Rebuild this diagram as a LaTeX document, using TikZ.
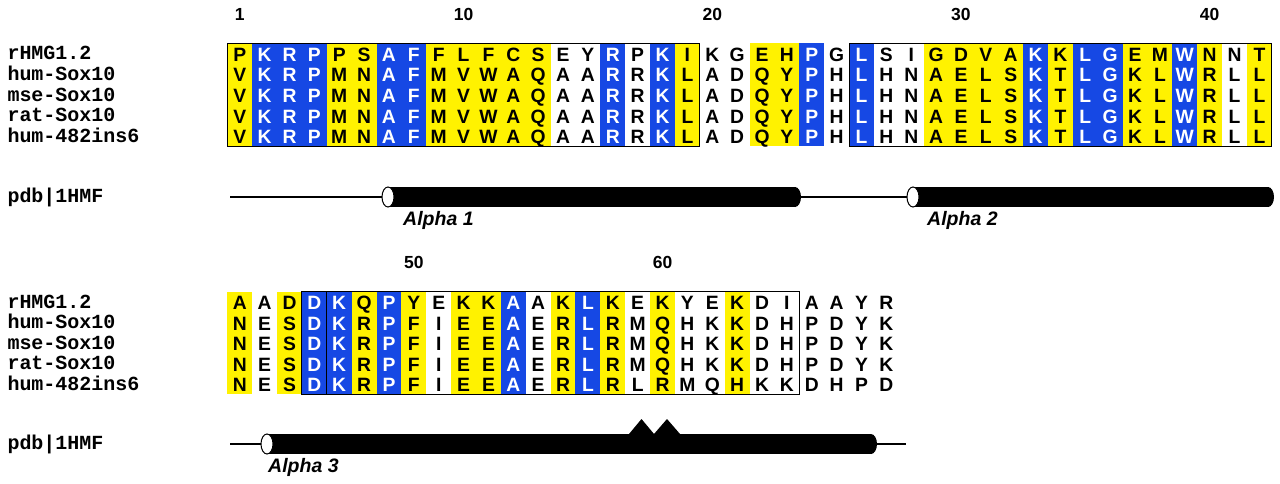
\documentclass[tikz,border=0pt]{standalone}
\usepackage{fontspec}
\setmainfont{Liberation Sans}
\newfontfamily\seqnamefont{Liberation Mono}
\definecolor{hmgyellow}{RGB}{255,242,0}
\definecolor{hmgblue}{RGB}{22,72,228}

\tikzset{
  res/.style={inner sep=0pt, text height=13.8pt, text depth=0pt,
    font=\bfseries\fontsize{19.3}{19.3}\selectfont},
  resY/.style={text=black}, resW/.style={text=black}, resB/.style={text=white},
  bgY/.style={fill=hmgyellow}, bgB/.style={fill=hmgblue}, bgW/.style={fill=white},
  seqname/.style={anchor=west, inner sep=0pt, text height=11pt, text depth=0pt,
    font=\seqnamefont\bfseries\fontsize{20}{20}\selectfont},
  posnum/.style={inner sep=0pt, font=\bfseries\fontsize{17.5}{17.5}\selectfont},
  blockbox/.style={draw=black, line width=1.1pt},
  backbone/.style={line width=1.8pt},
  helixname/.style={anchor=west, inner sep=0pt,
    font=\bfseries\itshape\fontsize{19.5}{19.5}\selectfont},
}

\begin{document}
\begin{tikzpicture}[x=1pt, y=-1pt]
        \useasboundingbox (0,0) rectangle (1280,484);
        \def\cw{24.87}
        \def\xo{227.3}

        % residues 1-42
        \foreach \k/\ra/\rb [count=\i] in {Y/P/V, B/K/K, B/R/R, B/P/P, Y/P/M, Y/S/N, B/A/A, B/F/F,
            Y/F/M, Y/L/V, Y/F/W, Y/C/A, Y/S/Q, W/E/A, W/Y/A, B/R/R, W/P/R, B/K/K, Y/I/L,
            W/K/A, W/G/D, Y/E/Q, Y/H/Y, B/P/P, W/G/H, B/L/L, W/S/H, W/I/N, Y/G/A, Y/D/E,
            Y/V/L, Y/A/S, B/K/K, Y/K/T, B/L/L, B/G/G, Y/E/K, Y/M/L, B/W/W, Y/N/R, W/N/L, Y/T/L} {
            \fill[bg\k] ({\xo+(\i-1)*\cw},43.3) rectangle ++(\cw,103.2);
            \node[res, res\k] (top-1-\i) at ({\xo+(\i-0.5)*\cw},{43.3+0.5*20.64+0.8}) {\ra};
            \foreach \r in {2,...,5}
                \node[res, res\k] (top-\r-\i) at ({\xo+(\i-0.5)*\cw},{43.3+(\r-0.5)*20.64+0.8}) {\rb};
        }
        \draw[blockbox] (\xo,43.3) rectangle ++({19*\cw},103.2);
        \draw[blockbox] ({\xo+25*\cw},43.3) rectangle ++({17*\cw},103.2);

        % residues 43-69
        \foreach \k/\ra/\rb/\re [count=\i] in {Y/A/N/N, W/A/E/E, Y/D/S/S, B/D/D/D, B/K/K/K,
            Y/Q/R/R, B/P/P/P, Y/Y/F/F, W/E/I/I, Y/K/E/E, Y/K/E/E, B/A/A/A, W/A/E/E, Y/K/R/R,
            B/L/L/L, Y/K/R/R, W/E/M/L, Y/K/Q/R, W/Y/H/M, W/E/K/Q, Y/K/K/H, W/D/D/K, W/I/H/K,
            W/A/P/D, W/A/D/H, W/Y/Y/P, W/R/K/D} {
            \fill[bg\k] ({\xo+(\i-1)*\cw},291.7) rectangle ++(\cw,102.6);
            \foreach \s/\r in {\ra/1,\rb/2,\rb/3,\rb/4,\re/5}
                \node[res, res\k] (bot-\r-\i) at ({\xo+(\i-0.5)*\cw},{291.7+(\r-0.5)*20.52+0.8}) {\s};
        }
        \draw[blockbox] ({\xo+3*\cw},291.7) rectangle ++(\cw,102.6);
        \draw[blockbox] ({\xo+4*\cw},291.7) rectangle ++({19*\cw},102.6);

        % numbering
        \foreach \n in {1,10,20,30,40}
            \node[posnum] (num\n) at ({\xo+(\n-0.5)*\cw},14) {\n};
        \foreach \n in {50,60}
            \node[posnum] (num\n) at ({\xo+(\n-42.5)*\cw},262) {\n};

        % sequence names
        \foreach \nm [count=\r] in {rHMG1.2,hum-Sox10,mse-Sox10,rat-Sox10,hum-482ins6} {
            \node[seqname] (topname\r) at (7.3,{43.3+(\r-0.5)*20.64+0.8}) {\nm};
            \node[seqname] (botname\r) at (7.3,{291.7+(\r-0.5)*20.52+0.8}) {\nm};
        }
        \node[seqname] (pdbtop) at (7.3,197) {pdb|1HMF};
        \node[seqname] (pdbbot) at (7.3,444) {pdb|1HMF};

        % secondary structure
        \coordinate (bb1s) at (230,197);
        \coordinate (bb1e) at (1273,197);
        \coordinate (bb2s) at (230,444);
        \coordinate (bb2e) at (906,444);
        \draw[backbone] (bb1s) -- (bb1e);
        \draw[backbone] (bb2s) -- (bb2e);
        \foreach \xa/\xb/\yc in {388/795/197, 913/1268/197, 267/871/444} {
            \fill (\xa,{\yc-10}) rectangle (\xb,{\yc+10});
            \fill (\xb,\yc) ellipse [x radius=6, y radius=10];
            \draw[line width=1pt, fill=white] (\xa,\yc) ellipse [x radius=6, y radius=10];
        }
        \fill (629,434) -- (641.5,419) -- (654,434) -- cycle;
        \fill (654,434) -- (667,419) -- (680,434) -- cycle;

        \node[helixname] (alpha1) at (403,220) {Alpha 1};
        \node[helixname] (alpha2) at (927,220) {Alpha 2};
        \node[helixname] (alpha3) at (268,467) {Alpha 3};
    \end{tikzpicture}
\end{document}
